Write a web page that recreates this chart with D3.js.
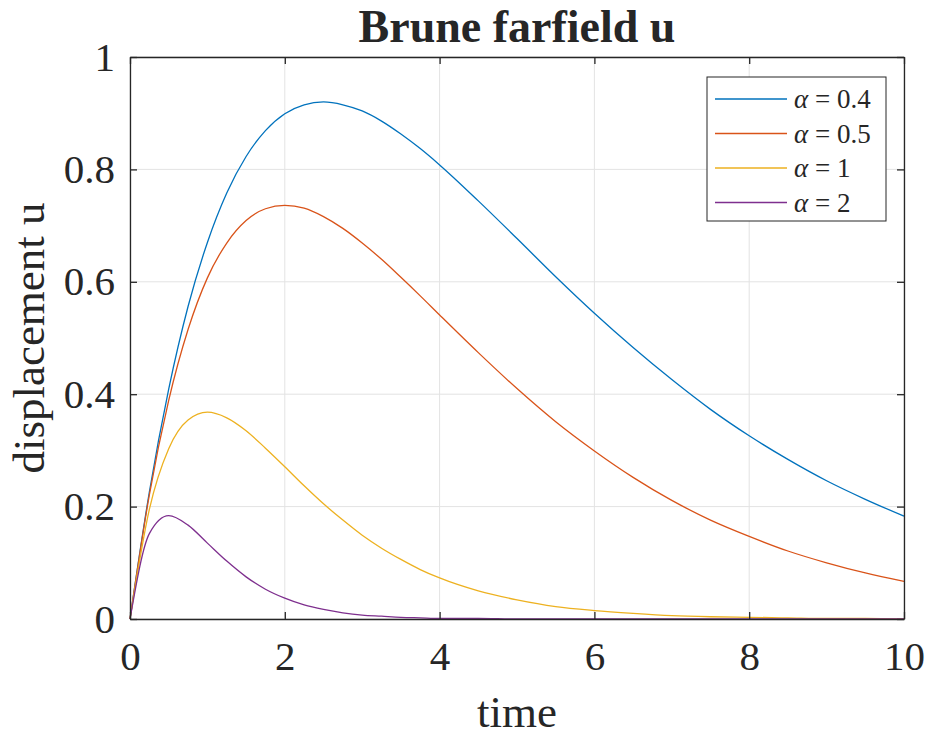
<!DOCTYPE html>
<html>
<head>
<meta charset="utf-8">
<script src="https://cdn.jsdelivr.net/npm/d3@7"></script>
<style>
  body { margin: 0; background: #fff; }
  svg text { font-family: "Liberation Serif", "Times New Roman", serif; fill: #262626; }
</style>
</head>
<body>
<script>
// Values at these times
var time = [0, 0.25, 0.5, 0.75, 1, 1.25, 1.5, 1.75, 2, 2.25, 2.5, 2.75, 3, 3.25, 3.5, 3.75, 4,
            4.5, 5, 5.5, 6, 6.5, 7, 7.5, 8, 8.5, 9, 9.5, 10];

var u_a04 = [0, 0.226, 0.409, 0.556, 0.670, 0.758, 0.823, 0.869, 0.899, 0.915, 0.920, 0.915, 0.904,
             0.886, 0.863, 0.837, 0.808, 0.744, 0.677, 0.609, 0.544, 0.483, 0.426, 0.373, 0.326,
             0.284, 0.246, 0.213, 0.183];
var u_a05 = [0, 0.221, 0.389, 0.515, 0.607, 0.669, 0.709, 0.730, 0.736, 0.731, 0.716, 0.695, 0.669,
             0.640, 0.608, 0.575, 0.541, 0.474, 0.410, 0.351, 0.299, 0.252, 0.211, 0.176, 0.147,
             0.121, 0.100, 0.082, 0.067];
var u_a1 = [0, 0.195, 0.303, 0.354, 0.368, 0.358, 0.335, 0.304, 0.271, 0.237, 0.205, 0.176, 0.149,
            0.126, 0.106, 0.088, 0.073, 0.050, 0.034, 0.022, 0.015, 0.010, 0.006, 0.004, 0.003,
            0.002, 0.001, 0.001, 0.000];
var u_a2 = [0, 0.152, 0.184, 0.167, 0.135, 0.103, 0.075, 0.053, 0.037, 0.025, 0.017, 0.011, 0.007,
            0.005, 0.003, 0.002, 0.001, 0.001, 0.000, 0.000, 0.000, 0.000, 0.000, 0.000, 0.000,
            0.000, 0.000, 0.000, 0.000];

var alpha_labels = ["0.4", "0.5", "1", "2"];
var x_ticks = [0, 2, 4, 6, 8, 10];
var y_ticks = [0, 0.2, 0.4, 0.6, 0.8, 1];

var series = [u_a04, u_a05, u_a1, u_a2];
var colors = ["#0072BD", "#D95319", "#EDB120", "#7E2F8E"];

var svg_width = 931;
var svg_height = 736;
var margin = { top: 57, right: 27, bottom: 117, left: 130 };
var chartWidth = svg_width - margin.left - margin.right;
var chartHeight = svg_height - margin.top - margin.bottom;

var svg = d3.select("body")
    .append("svg")
    .attr("width", svg_width)
    .attr("height", svg_height);

var g = svg.append("g")
    .attr("transform", "translate(" + margin.left + "," + margin.top + ")");

var x = d3.scaleLinear().domain([0, 10]).range([0, chartWidth]);
var y = d3.scaleLinear().domain([0, 1]).range([chartHeight, 0]);

// grid
g.append("g").selectAll("line").data(x_ticks).enter().append("line")
    .attr("x1", function (d) { return x(d); }).attr("x2", function (d) { return x(d); })
    .attr("y1", 0).attr("y2", chartHeight)
    .attr("stroke", "#e3e3e3").attr("stroke-width", 1);
g.append("g").selectAll("line").data(y_ticks).enter().append("line")
    .attr("y1", function (d) { return y(d); }).attr("y2", function (d) { return y(d); })
    .attr("x1", 0).attr("x2", chartWidth)
    .attr("stroke", "#e3e3e3").attr("stroke-width", 1);

// curves
var line = d3.line()
    .x(function (d, i) { return x(time[i]); })
    .y(function (d) { return y(d); })
    .curve(d3.curveMonotoneX);

series.forEach(function (s, k) {
    g.append("path")
        .datum(s)
        .attr("fill", "none")
        .attr("stroke", colors[k])
        .attr("stroke-width", 1.3)
        .attr("d", line);
});

// axes, ticks inside, box on
function styleAxis(sel) {
    sel.select(".domain").attr("stroke", "#262626").attr("stroke-width", 1.3);
    sel.selectAll(".tick line").attr("stroke", "#262626").attr("stroke-width", 1.3);
    sel.selectAll("text")
        .attr("font-family", "Liberation Serif, serif")
        .attr("font-size", "41px")
        .attr("fill", "#262626");
}

var xAxis = g.append("g")
    .attr("transform", "translate(0," + chartHeight + ")")
    .call(d3.axisBottom(x).tickValues(x_ticks).tickSize(-7).tickSizeOuter(0).tickPadding(22).tickFormat(d3.format("d")));
styleAxis(xAxis);

var yAxis = g.append("g")
    .call(d3.axisLeft(y).tickValues(y_ticks).tickSize(-7).tickSizeOuter(0).tickPadding(15).tickFormat(function (d) { return d; }));
styleAxis(yAxis);

var topAxis = g.append("g")
    .call(d3.axisTop(x).tickValues(x_ticks).tickSize(-7).tickSizeOuter(0).tickFormat(""));
styleAxis(topAxis);

var rightAxis = g.append("g")
    .attr("transform", "translate(" + chartWidth + ",0)")
    .call(d3.axisRight(y).tickValues(y_ticks).tickSize(-7).tickSizeOuter(0).tickFormat(""));
styleAxis(rightAxis);

// title and axis labels
svg.append("text")
    .attr("x", margin.left + chartWidth / 2)
    .attr("y", 42)
    .attr("text-anchor", "middle")
    .attr("font-size", "46px")
    .attr("font-weight", "bold")
    .attr("fill", "#000")
    .text("Brune farfield u");

svg.append("text")
    .attr("x", margin.left + chartWidth / 2)
    .attr("y", 727)
    .attr("text-anchor", "middle")
    .attr("font-size", "45px")
    .text("time");

svg.append("text")
    .attr("transform", "translate(44," + (margin.top + chartHeight / 2) + ") rotate(-90)")
    .attr("text-anchor", "middle")
    .attr("font-size", "45px")
    .text("displacement u");

// legend
var legend = svg.append("g").attr("transform", "translate(707,77)");
legend.append("rect")
    .attr("width", 179).attr("height", 144)
    .attr("fill", "#fff")
    .attr("stroke", "#262626").attr("stroke-width", 1);

alpha_labels.forEach(function (lab, k) {
    var rowY = 22 + k * 34.5;
    legend.append("line")
        .attr("x1", 8).attr("x2", 80)
        .attr("y1", rowY).attr("y2", rowY)
        .attr("stroke", colors[k]).attr("stroke-width", 1.3);
    var t = legend.append("text")
        .attr("x", 87).attr("y", rowY + 9)
        .attr("font-size", "27px");
    t.append("tspan").attr("font-style", "italic").text("α");
    t.append("tspan").text(" = " + lab);
});
</script>
</body>
</html>
